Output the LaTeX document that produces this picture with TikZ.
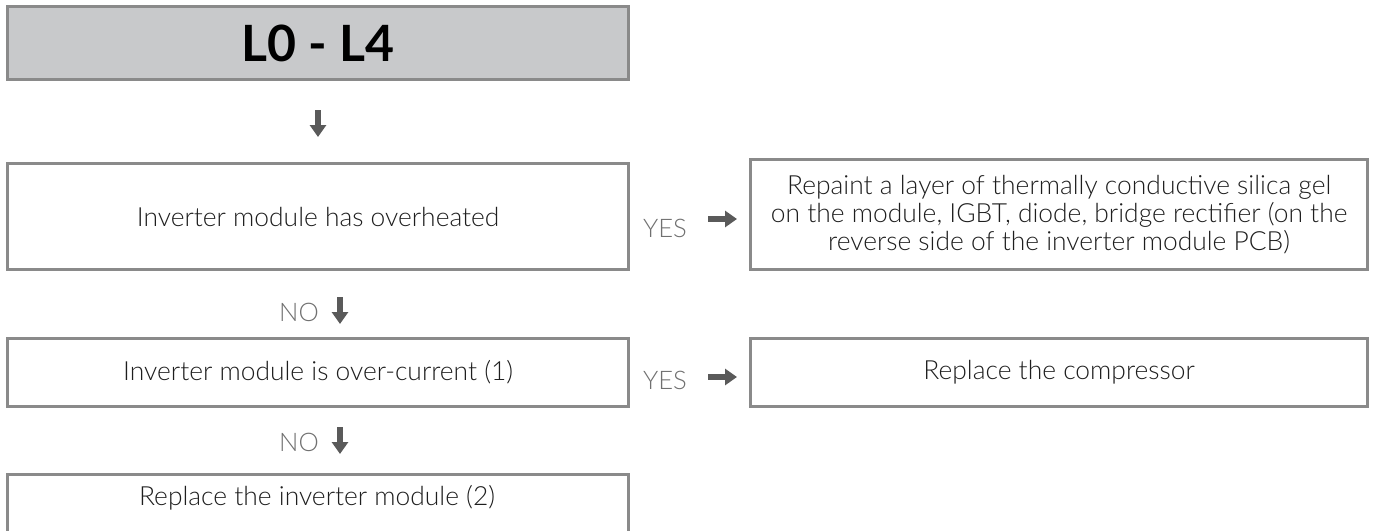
\documentclass[tikz,border=0pt]{standalone}
\usepackage{fontspec}
\setmainfont{Lato Light}
\newfontfamily\titlefont{Lato}
\usetikzlibrary{arrows.meta}
\definecolor{boxline}{HTML}{8A8A8A}
\definecolor{titlefill}{HTML}{C8C9CB}
\definecolor{arrowc}{HTML}{5A5A5A}
\definecolor{lblc}{HTML}{707070}
\definecolor{txt}{HTML}{1E1E1E}
\tikzset{
  stepbox/.style={draw=boxline, line width=1.6, inner sep=0pt, anchor=north west, text=txt, font=\fontsize{13.2}{13.8}\selectfont, align=center},
  lbl/.style={text=lblc, font=\fontsize{12.8}{14}\selectfont, inner sep=0pt},
  blockarrow/.style={draw=arrowc, line width=2.8, -{Triangle[width=8pt,length=6pt]}},
}
\begin{document}
\begin{tikzpicture}[x=0.5pt,y=-0.5pt]
\useasboundingbox (0,0) rectangle (1375,530);
\clip (0,0) rectangle (1375,530);
\node[stepbox, fill=titlefill, minimum width=310.5pt, minimum height=36.5pt, font=\titlefont\fontsize{25}{28}\bfseries\selectfont, text=black] (title) at (6,5) {L0 - L4};
\coordinate (a0s) at (318,110);
\coordinate (a0e) at (318,137);
\draw[blockarrow] (a0s) -- (a0e);

\node[stepbox, minimum width=310.5pt, minimum height=53pt] (b1) at (6,162) {Inverter module has overheated};
\node[stepbox, minimum width=308.5pt, minimum height=55pt] (r1) at (749,158) {Repaint a layer of thermally conductive silica gel\\on the module, IGBT, diode, bridge rectifier (on the\\reverse side of the inverter module PCB)};
\node[lbl] (y1) at (665,228) {YES};
\coordinate (y1s) at (708,219);
\coordinate (y1e) at (737,219);
\draw[blockarrow] (y1s) -- (y1e);

\node[lbl] (n1) at (299,312) {NO};
\coordinate (n1s) at (340,297);
\coordinate (n1e) at (340,324);
\draw[blockarrow] (n1s) -- (n1e);

\node[stepbox, minimum width=310.5pt, minimum height=34pt] (b2) at (6,337) {Inverter module is over-current (1)};
\node[stepbox, minimum width=308.5pt, minimum height=34pt] (r2) at (749,337) {Replace the compressor};
\node[lbl] (y2) at (665,380) {YES};
\coordinate (y2s) at (708,377);
\coordinate (y2e) at (737,377);
\draw[blockarrow] (y2s) -- (y2e);

\node[lbl] (n2) at (299,442) {NO};
\coordinate (n2s) at (340,427);
\coordinate (n2e) at (340,454);
\draw[blockarrow] (n2s) -- (n2e);

\node[stepbox, minimum width=310.5pt, minimum height=40pt] (b3) at (6,473) {};
\node[text=txt, font=\fontsize{13.2}{13.8}\selectfont, inner sep=0pt] (b3t) at (317,498) {Replace the inverter module (2)};
\end{tikzpicture}
\end{document}
